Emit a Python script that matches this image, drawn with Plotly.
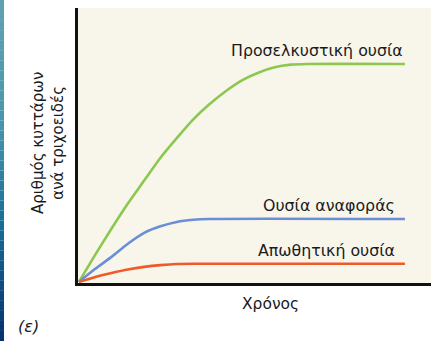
import plotly.graph_objects as go

W, H = 431, 341

# data (time in arbitrary units, cell count in arbitrary units)
time_green = [0, 0.5, 1, 1.5, 2, 2.5, 3, 3.5, 4, 4.5, 5, 5.5, 6, 6.5, 7, 10]
attractant = [0, 12.5, 24.5, 36, 46.5, 57, 66, 74.5, 81.5, 87.5, 92.5, 96, 98.5, 99.7, 100, 100]

time_blue = [0, 0.5, 1, 1.5, 2, 2.5, 3, 3.5, 4, 10]
reference = [0, 6, 11.5, 17.5, 22.5, 25.5, 27.5, 28.5, 28.9, 28.9]

time_red = [0, 0.5, 1, 1.5, 2, 2.5, 3, 3.5, 10]
repellent = [0, 2.3, 4.1, 5.7, 6.9, 7.7, 8.2, 8.3, 8.3]

labels = ["Προσελκυστική ουσία", "Ουσία αναφοράς", "Απωθητική ουσία"]
y_title = "Αριθμός κυττάρων<br>ανά τριχοειδές"
x_title = "Χρόνος"
panel = "(ε)"

FONT = "DejaVu Sans"
TXT = "#1a1a1a"

fig = go.Figure()
for xs, ys, col in [(time_green, attractant, "#8cc850"),
                    (time_blue, reference, "#6b8fd6"),
                    (time_red, repellent, "#f05a28")]:
    fig.add_trace(go.Scatter(x=xs, y=ys, mode="lines",
                             line=dict(color=col, width=2.6, shape="spline", smoothing=0.6)))

x0 = 78 / W
y0 = (H - 283) / H
y1 = (H - 8) / H

fig.update_layout(
    width=W, height=H,
    margin=dict(l=0, r=0, t=0, b=0),
    paper_bgcolor="white",
    plot_bgcolor="#f8f5ea",
    showlegend=False,
    font=dict(family=FONT, color=TXT),
    xaxis=dict(domain=[x0, 1], range=[-0.03, 10.8], showgrid=False, zeroline=False,
               showticklabels=False, ticks="", showline=True, linecolor="#111", linewidth=3),
    yaxis=dict(domain=[y0, y1], range=[-0.5, 125.7], showgrid=False, zeroline=False,
               showticklabels=False, ticks="", showline=True, linecolor="#111", linewidth=3),
)

ann = [
    dict(x=10, y=106.4, text=labels[0], xanchor="right", yanchor="middle"),
    dict(x=9.75, y=34.9, text=labels[1], xanchor="right", yanchor="middle"),
    dict(x=9.75, y=14.2, text=labels[2], xanchor="right", yanchor="middle"),
]
for a in ann:
    fig.add_annotation(xref="x", yref="y", showarrow=False,
                       font=dict(size=15.8, family=FONT, color=TXT), **a)

fig.add_annotation(xref="paper", yref="paper", x=48 / W, y=(H - 143) / H, text=y_title,
                   textangle=-90, showarrow=False, xanchor="center", yanchor="middle",
                   font=dict(size=15, family=FONT, color=TXT))
fig.add_annotation(xref="paper", yref="paper", x=270 / W, y=(H - 304) / H, text=x_title,
                   showarrow=False, xanchor="center", yanchor="middle",
                   font=dict(size=15.5, family=FONT, color=TXT))
fig.add_annotation(xref="paper", yref="paper", x=28 / W, y=(H - 326) / H, text="<i>" + panel + "</i>",
                   showarrow=False, xanchor="center", yanchor="middle",
                   font=dict(size=16, family=FONT, color=TXT))

# decorative slide-edge strip on the left
stops = [(0, (95, 163, 178)), (120, (74, 151, 173)), (220, (26, 111, 154)), (341, (8, 48, 110))]
n = 34
shapes = []
for i in range(n):
    ya = i * H / n
    yb = (i + 1) * H / n
    ym = (ya + yb) / 2
    for j in range(len(stops) - 1):
        if stops[j][0] <= ym <= stops[j + 1][0]:
            t = (ym - stops[j][0]) / (stops[j + 1][0] - stops[j][0])
            c = tuple(int(stops[j][1][k] + t * (stops[j + 1][1][k] - stops[j][1][k])) for k in range(3))
            break
    shapes.append(dict(type="rect", xref="paper", yref="paper", x0=0, x1=4 / W,
                       y0=1 - yb / H, y1=1 - ya / H, line=dict(width=0),
                       fillcolor="rgb(%d,%d,%d)" % c, layer="above"))
fig.update_layout(shapes=shapes)

fig.write_html("out.html", config={"displayModeBar": False},
               post_script="document.body.style.margin='0';document.body.style.overflow='hidden';")
